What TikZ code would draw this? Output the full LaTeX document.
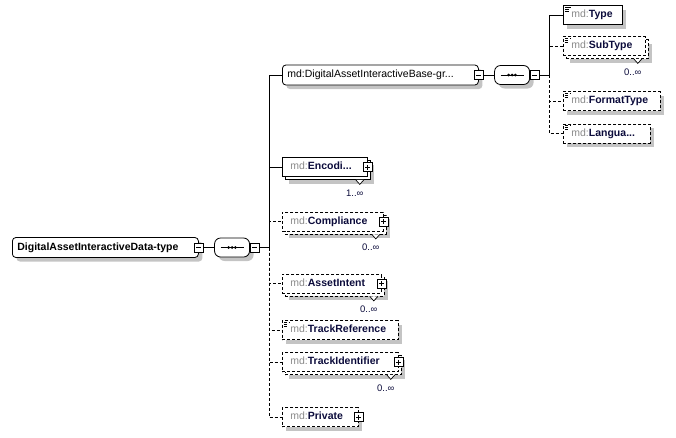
\documentclass[tikz,border=0pt]{standalone}
\usepackage{fontspec}
\setmainfont{Liberation Sans}
\usetikzlibrary{positioning}
\usetikzlibrary{shadows}

\definecolor{mdgray}{HTML}{8A8A8A}
\definecolor{namecol}{HTML}{0B0B3B}
\definecolor{shadowgray}{HTML}{C4C4C4}
\newcommand{\mdname}[1]{{\color{mdgray}md:}\textbf{\color{namecol}#1}}
\newcommand{\card}[2]{%
  \draw[fill=white, line width=0.7pt] ([xshift=-12pt, yshift=-3pt]#1.south east) -- ++(4pt,-4.5pt) -- ++(4pt,4.5pt);
  \node[cnt] (#1c) at ([xshift=-13pt, yshift=-16pt]#1.south east) {#2};}

\begin{document}
\begin{tikzpicture}[x=1pt, y=-1pt, line width=0.8pt, font=\fontsize{10.5}{12}\selectfont,
    every node/.style={inner sep=0pt},
    shd/.style={drop shadow={shadow xshift=#1, shadow yshift=-#1, fill=shadowgray, opacity=1}},
    shd/.default=4pt,
    opt/.style={dash pattern=on 3pt off 2pt},
    multi/.style={shd=7pt, general shadow={shadow xshift=3pt, shadow yshift=-3pt, fill=white, draw=black}},
    elem/.style={draw, fill=white, anchor=west, minimum height=19pt, inner xsep=8pt, align=left, text height=8pt, text depth=2.5pt},
    simp/.style={path picture={
        \draw[line width=0.6pt] ([xshift=1.5pt, yshift=-1.5pt]path picture bounding box.north west) -- ++(6.5pt,0pt)
          ([xshift=1.5pt, yshift=-3.5pt]path picture bounding box.north west) -- ++(4.5pt,0pt)
          ([xshift=1.5pt, yshift=-5.5pt]path picture bounding box.north west) -- ++(4.5pt,0pt);}},
    grp/.style={draw, fill=white, rounded corners=3.5pt, anchor=west, minimum height=20pt,
        inner xsep=5pt, align=left, text height=8pt, text depth=2.5pt, shd},
    seq/.style={draw, fill=white, rounded corners=6pt, minimum width=35pt, minimum height=19pt, shd, path picture={
        \draw[line width=0.9pt] ([xshift=6pt]path picture bounding box.west) -- ([xshift=-6pt]path picture bounding box.east);
        \fill[black] (path picture bounding box.center) circle (1.5pt) ++(-3.4pt,0pt) circle (1.5pt) ++(6.8pt,0pt) circle (1.5pt);}},
    minus/.style={draw, fill=white, minimum size=9pt, line width=0.7pt, path picture={
        \draw[line width=0.7pt] ([xshift=2pt]path picture bounding box.west) -- ([xshift=-2pt]path picture bounding box.east);}},
    plus/.style={draw, fill=white, minimum size=9pt, line width=0.7pt, path picture={
        \draw[line width=0.7pt] ([xshift=2pt]path picture bounding box.west) -- ([xshift=-2pt]path picture bounding box.east)
          ([yshift=-2pt]path picture bounding box.north) -- ([yshift=2pt]path picture bounding box.south);}},
    cnt/.style={font=\fontsize{9.5}{10}\selectfont, text=namecol}]

    \useasboundingbox (0,0) rectangle (676,437);

    % root type and its sequence
    \node[grp, text width=176pt] (root) at (12,247.5) {\textbf{DigitalAssetInteractiveData-type}};
    \node[minus] (rootm) at (root.east) {};
    \node[seq, right=10.5pt of rootm] (seq1) {};
    \node[minus, right=0pt of seq1] (seq1m) {};
    \coordinate[right=9.5pt of seq1m] (j1);

    % base group and its sequence
    \node[grp, text width=186pt] (base) at (282,75) {md:DigitalAssetInteractiveBase-gr...};
    \node[minus] (basem) at (base.east) {};
    \node[seq, right=10.5pt of basem] (seq2) {};
    \node[minus, right=0pt of seq2] (seq2m) {};
    \coordinate[right=9.5pt of seq2m] (j2);

    % children of the base group
    \node[elem, shd, simp, text width=43pt] (type) at (563,15) {\mdname{Type}};
    \node[elem, opt, multi, simp, text width=66pt] (subtype) at (563,46) {\mdname{SubType}};
    \node[elem, opt, shd, simp, text width=81pt] (format) at (563,101) {\mdname{FormatType}};
    \node[elem, opt, shd, simp, text width=71pt] (langua) at (563,133.5) {\mdname{Langua...}};

    % children of the sequence
    \node[elem, multi, text width=69pt] (enc) at (282,167) {\mdname{Encodi...}};
    \node[elem, opt, multi, text width=85pt] (comp) at (282,221.5) {\mdname{Compliance}};
    \node[elem, opt, multi, text width=83pt] (asset) at (282,283.5) {\mdname{AssetIntent}};
    \node[elem, opt, shd, simp, text width=100pt] (trackref) at (282,330) {\mdname{TrackReference}};
    \node[elem, opt, multi, text width=100pt] (trackid) at (282,362) {\mdname{TrackIdentifier}};
    \node[elem, opt, shd, text width=60pt] (private) at (282,417) {\mdname{Private}};

    \node[plus] (encp) at (enc.east) {};
    \node[plus] (compp) at (comp.east) {};
    \node[plus] (assetp) at (asset.east) {};
    \node[plus] (trackidp) at (trackid.east) {};
    \node[plus] (privatep) at (private.east) {};

    \card{subtype}{0..∞}
    \card{enc}{1..∞}
    \card{comp}{0..∞}
    \card{asset}{0..∞}
    \card{trackid}{0..∞}

    \draw (rootm) -- (seq1);
    \draw (seq1m) -- (j1);
    \draw (j1) |- (base);
    \draw (j1) |- (enc);
    \draw[opt] (j1) |- (comp);
    \draw[opt] (j1) |- (asset);
    \draw[opt] (j1) |- (trackref);
    \draw[opt] (j1) |- (trackid);
    \draw[opt] (j1) |- (private);

    \draw (basem) -- (seq2);
    \draw (seq2m) -- (j2);
    \draw (j2) |- (type);
    \draw[opt] (j2) |- (subtype);
    \draw[opt] (j2) |- (format);
    \draw[opt] (j2) |- (langua);
\end{tikzpicture}
\end{document}
